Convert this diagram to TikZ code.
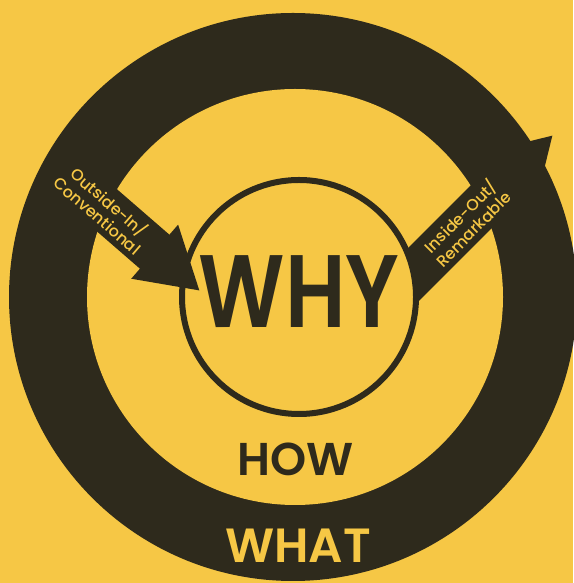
\documentclass[tikz,border=0pt]{standalone}
\usepackage{graphicx}
\usepackage{fontspec}
\setmainfont{Poppins}
\newfontfamily\semifont{Poppins SemiBold}
\newfontfamily\midfont{Poppins Medium}
\usetikzlibrary{arrows.meta}
\definecolor{paper}{HTML}{F6C745}
\definecolor{ink}{HTML}{2E2A1C}

\begin{document}
\begin{tikzpicture}[x=1pt,y=1pt,
  bigarrow/.style={ink, line width=45pt, -{Triangle[length=60pt,width=67pt]}},
  tag/.style={text=paper, align=center, font=\fontsize{16}{18}\selectfont\midfont},
  word/.style={font=\fontsize{#1}{#1}\selectfont\semifont}]
\useasboundingbox (0,0) rectangle (573,583);
\fill[paper] (0,0) rectangle (573,583);
\fill[ink] (293,286) circle (284);
\fill[paper] (295,286) circle (208);
% inside-out arrow, under the circle
\coordinate (rtail) at (360,255);
\coordinate (rtip) at (553,448);
\draw[bigarrow] (rtail) -- (rtip) node[tag, sloped, pos=0.55] {Inside-Out/\\Remarkable};
\node[draw=ink, fill=paper, line width=6pt, circle, minimum size=234pt,
  text depth=10pt, text=ink, word=103] (why) at (299,286) {\scalebox{0.82}[1]{WHY}};
% outside-in arrow, over the circle
\coordinate (ltail) at (57,416);
\coordinate (ltip) at ([xshift=21pt,yshift=6pt]why.west);
\draw[bigarrow] (ltail) -- (ltip) node[tag, sloped, pos=0.33] {Outside-In/\\Conventional};
\node[text=ink, word=46] (how) at (296,124) {HOW};
\node[text=paper, word=48] (what) at (298,37) {WHAT};
\end{tikzpicture}
\end{document}
